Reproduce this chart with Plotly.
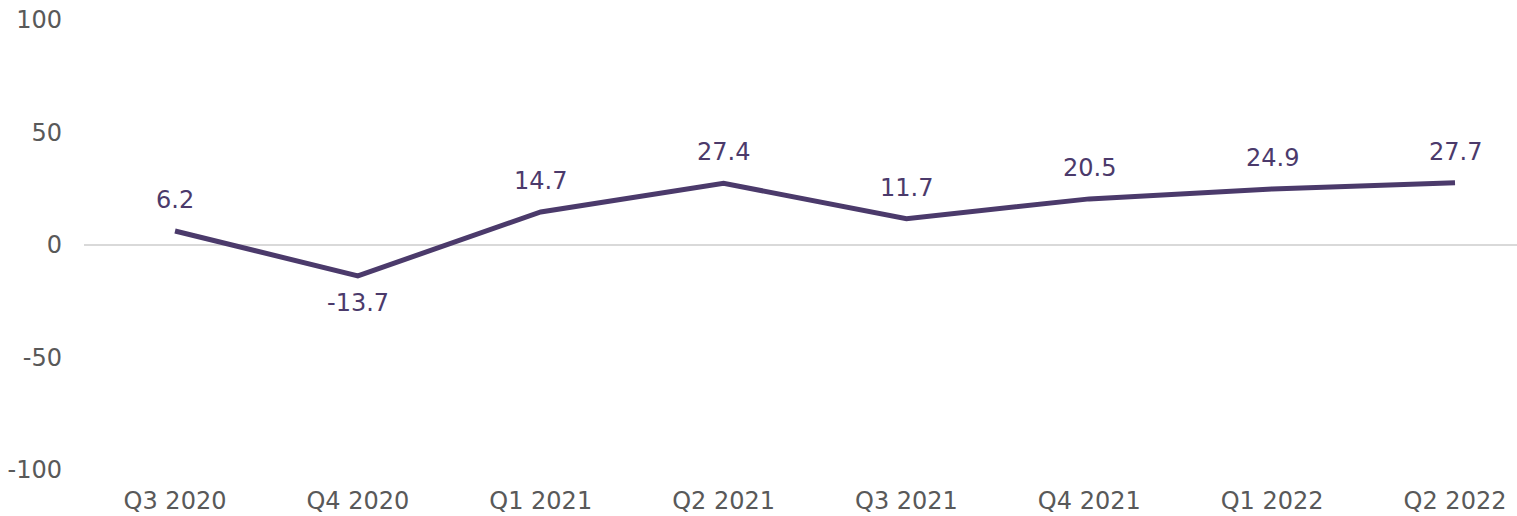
import plotly.graph_objects as go

categories = ["Q3 2020", "Q4 2020", "Q1 2021", "Q2 2021", "Q3 2021", "Q4 2021", "Q1 2022", "Q2 2022"]
values = [6.2, -13.7, 14.7, 27.4, 11.7, 20.5, 24.9, 27.7]
y_ticks = [-100, -50, 0, 50, 100]

line_color = "#4b3a6b"

fig = go.Figure()
fig.add_trace(go.Scatter(
    x=categories, y=values, mode="lines",
    line=dict(color=line_color, width=5, shape="linear"),
    hoverinfo="skip",
))

for c, v in zip(categories, values):
    fig.add_annotation(
        x=c, y=v, text=f"{v:.1f}", showarrow=False,
        xanchor="center", yanchor="middle",
        yshift=31 if v >= 0 else -27,
        font=dict(family="DejaVu Sans", size=24, color=line_color),
    )

fig.update_layout(
    width=1517, height=516,
    margin=dict(l=84, r=0, t=20, b=46),
    paper_bgcolor="white", plot_bgcolor="white",
    showlegend=False,
    font=dict(family="DejaVu Sans", size=24, color="#595959"),
)
fig.update_xaxes(
    type="category", range=[-0.4977, 7.339],
    showgrid=False, showline=False, zeroline=False, ticks="",
    ticklabelstandoff=14,
    tickfont=dict(size=24, color="#595959"),
)
fig.update_yaxes(
    range=[-100, 100], tickvals=y_ticks, ticktext=[str(t) for t in y_ticks],
    showgrid=False, zeroline=True, zerolinecolor="#d9d9d9", zerolinewidth=2,
    showline=False, ticks="", ticklabelstandoff=21,
    tickfont=dict(size=24, color="#595959"),
)
fig.write_html("out.html", config={"displayModeBar": False},
               post_script="document.body.style.margin='0';document.body.style.overflow='hidden';")
